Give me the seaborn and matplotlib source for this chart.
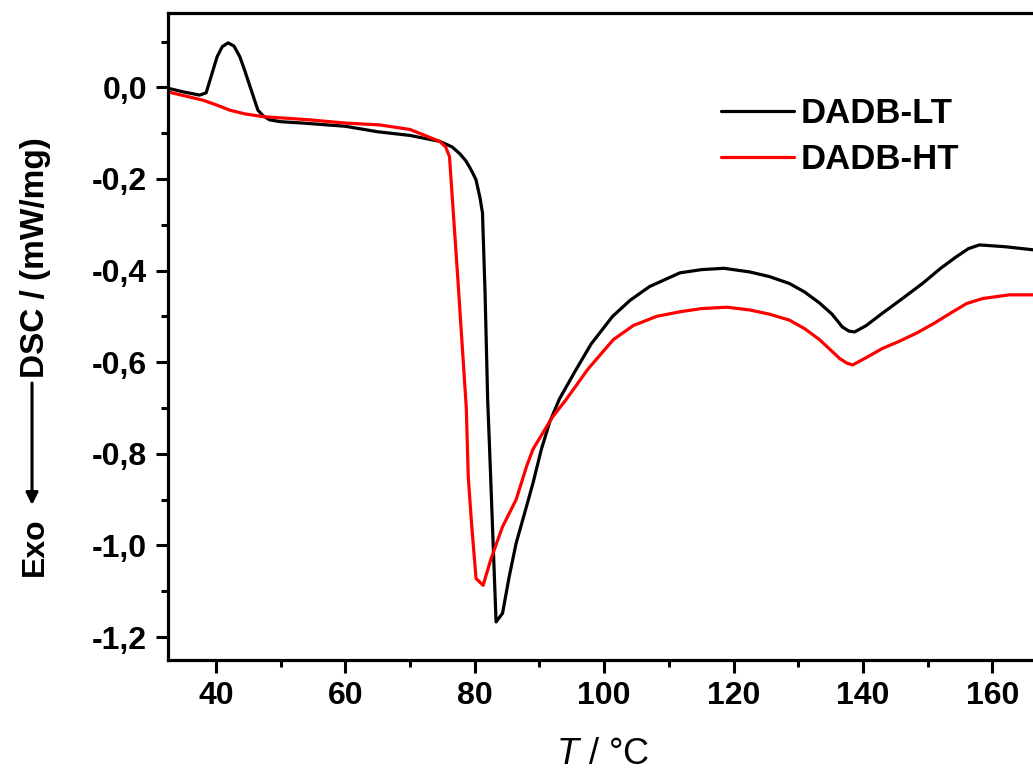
import numpy as np
import pandas as pd
import matplotlib
matplotlib.use("Agg")
import matplotlib.pyplot as plt
from matplotlib.ticker import MultipleLocator, FuncFormatter
import seaborn as sns

# DSC curves (T in °C, DSC in mW/mg)
t_lt = [32.6, 35, 37.5, 38.5, 39.1, 40.2, 41.0, 41.9, 42.8, 43.7, 44.5, 45.3, 46.5, 47.3,
        48.3, 50, 53.4, 60, 65, 70, 74.6, 76.5, 77.7, 78.6, 79.2, 79.8, 80.2, 80.8, 81.2,
        81.6, 82.0, 82.3, 83.3, 84.3, 85.3, 86.4, 87.7, 89.0, 90.3, 91.6, 93.1, 95.5, 98,
        101.3, 104, 107, 111.7, 115, 118.5, 122.5, 125.5, 128.6, 131, 133.3, 135.2, 136.8,
        137.8, 138.7, 140.5, 143.0, 146, 149.2, 152, 154.4, 156.3, 158.0, 162, 166.5]
dsc_lt = [-0.002, -0.01, -0.017, -0.012, 0.016, 0.067, 0.089, 0.097, 0.09, 0.067, 0.035,
          0.001, -0.05, -0.062, -0.071, -0.075, -0.078, -0.085, -0.097, -0.105, -0.118,
          -0.13, -0.145, -0.16, -0.174, -0.19, -0.202, -0.24, -0.274, -0.45, -0.682, -0.79,
          -1.167, -1.148, -1.07, -0.995, -0.93, -0.864, -0.79, -0.73, -0.68, -0.62, -0.56,
          -0.50, -0.465, -0.435, -0.405, -0.398, -0.395, -0.403, -0.413, -0.428, -0.447,
          -0.471, -0.495, -0.523, -0.532, -0.534, -0.52, -0.493, -0.462, -0.428, -0.395,
          -0.37, -0.352, -0.344, -0.348, -0.355]

t_ht = [32.6, 35, 38, 40, 42.2, 44.5, 47.3, 54.5, 60, 65.3, 70, 74.6, 75.5, 76.1, 77.4,
        78.7, 79.0, 79.5, 80.2, 81.3, 82.5, 84.3, 86.4, 88.0, 89.0, 90.5, 92, 94.1, 97.5,
        101.4, 104.5, 108.1, 111.7, 115, 119, 122.5, 125.5, 128.6, 131, 133.3, 136.4, 137.5,
        138.4, 140.5, 143.0, 145.5, 148.2, 151, 153.4, 156, 158.5, 162.6, 166.5]
dsc_ht = [-0.01, -0.018, -0.028, -0.038, -0.05, -0.058, -0.064, -0.071, -0.078, -0.082,
          -0.092, -0.118, -0.13, -0.151, -0.42, -0.70, -0.85, -0.95, -1.072, -1.087, -1.03,
          -0.959, -0.90, -0.828, -0.79, -0.755, -0.72, -0.682, -0.615, -0.551, -0.52, -0.50,
          -0.49, -0.483, -0.48, -0.486, -0.495, -0.508, -0.527, -0.551, -0.592, -0.602,
          -0.606, -0.59, -0.57, -0.555, -0.537, -0.515, -0.494, -0.472, -0.461, -0.453,
          -0.453]

samples = ["DADB-LT", "DADB-HT"]

df = pd.concat([
    pd.DataFrame({"T": t_lt, "DSC": dsc_lt, "Sample": samples[0]}),
    pd.DataFrame({"T": t_ht, "DSC": dsc_ht, "Sample": samples[1]}),
])

sns.set_style("ticks", {"axes.edgecolor": "black", "xtick.color": "black",
                        "ytick.color": "black", "text.color": "black",
                        "axes.labelcolor": "black"})
plt.rcParams["font.family"] = ["Liberation Sans", "DejaVu Sans"]
plt.rcParams["font.weight"] = "bold"
plt.rcParams["mathtext.fontset"] = "custom"
plt.rcParams["mathtext.it"] = "Liberation Sans:style=italic:weight=normal"
plt.rcParams["mathtext.rm"] = "Liberation Sans:weight=normal"

fig = plt.figure(figsize=(10.33, 7.71), dpi=100)
ax = fig.add_axes([0.1626, 0.144, 0.842, 0.839])

sns.lineplot(data=df, x="T", y="DSC", hue="Sample", palette=["black", "#ff0000"],
             linewidth=2.3, sort=False, estimator=None, ax=ax)

ax.set_xlim(32.6, 167)
ax.set_ylim(-1.25, 0.162)

ax.xaxis.set_major_locator(MultipleLocator(20))
ax.xaxis.set_minor_locator(MultipleLocator(10))
ax.yaxis.set_major_locator(MultipleLocator(0.2))
ax.yaxis.set_minor_locator(MultipleLocator(0.1))
ax.yaxis.set_major_formatter(FuncFormatter(lambda v, p: f"{v:.1f}".replace(".", ",")))

ax.tick_params(which="major", direction="out", length=9, width=2.2, labelsize=23, pad=6)
ax.tick_params(which="minor", direction="out", length=5, width=2.2)
ax.tick_params(top=False, right=False, which="both")
for lab in ax.get_xticklabels() + ax.get_yticklabels():
    lab.set_fontweight("bold")

for s in ["left", "bottom", "top"]:
    ax.spines[s].set_linewidth(2.3)
ax.spines["right"].set_visible(False)

ax.set_xlabel(r"$\it{T}$ / °C", fontsize=26, fontweight="normal", labelpad=19)
ax.set_ylabel("")

# y label: "Exo", long down arrow, "DSC / (mW/mg)"
fig.text(0.034, 1 - 547 / 771, "Exo", rotation=90, ha="center", va="center",
         fontsize=23, fontweight="bold")
fig.text(0.034, 1 - 258 / 771, "DSC / (mW/mg)", rotation=90, ha="center", va="center",
         fontsize=24, fontweight="bold")
ax.annotate("", xy=(0.031, 1 - 505 / 771), xytext=(0.031, 1 - 383 / 771),
            xycoords="figure fraction", textcoords="figure fraction",
            arrowprops=dict(arrowstyle="-|>", color="black", lw=2.2,
                            mutation_scale=18, shrinkA=0, shrinkB=0))

leg = ax.legend(loc="upper left", bbox_to_anchor=(0.6, 0.919), frameon=False,
                fontsize=25, handlelength=2.1, handletextpad=0.18, labelspacing=0.38)
for t in leg.get_texts():
    t.set_fontweight("bold")

fig.savefig("out.png", dpi=100)
